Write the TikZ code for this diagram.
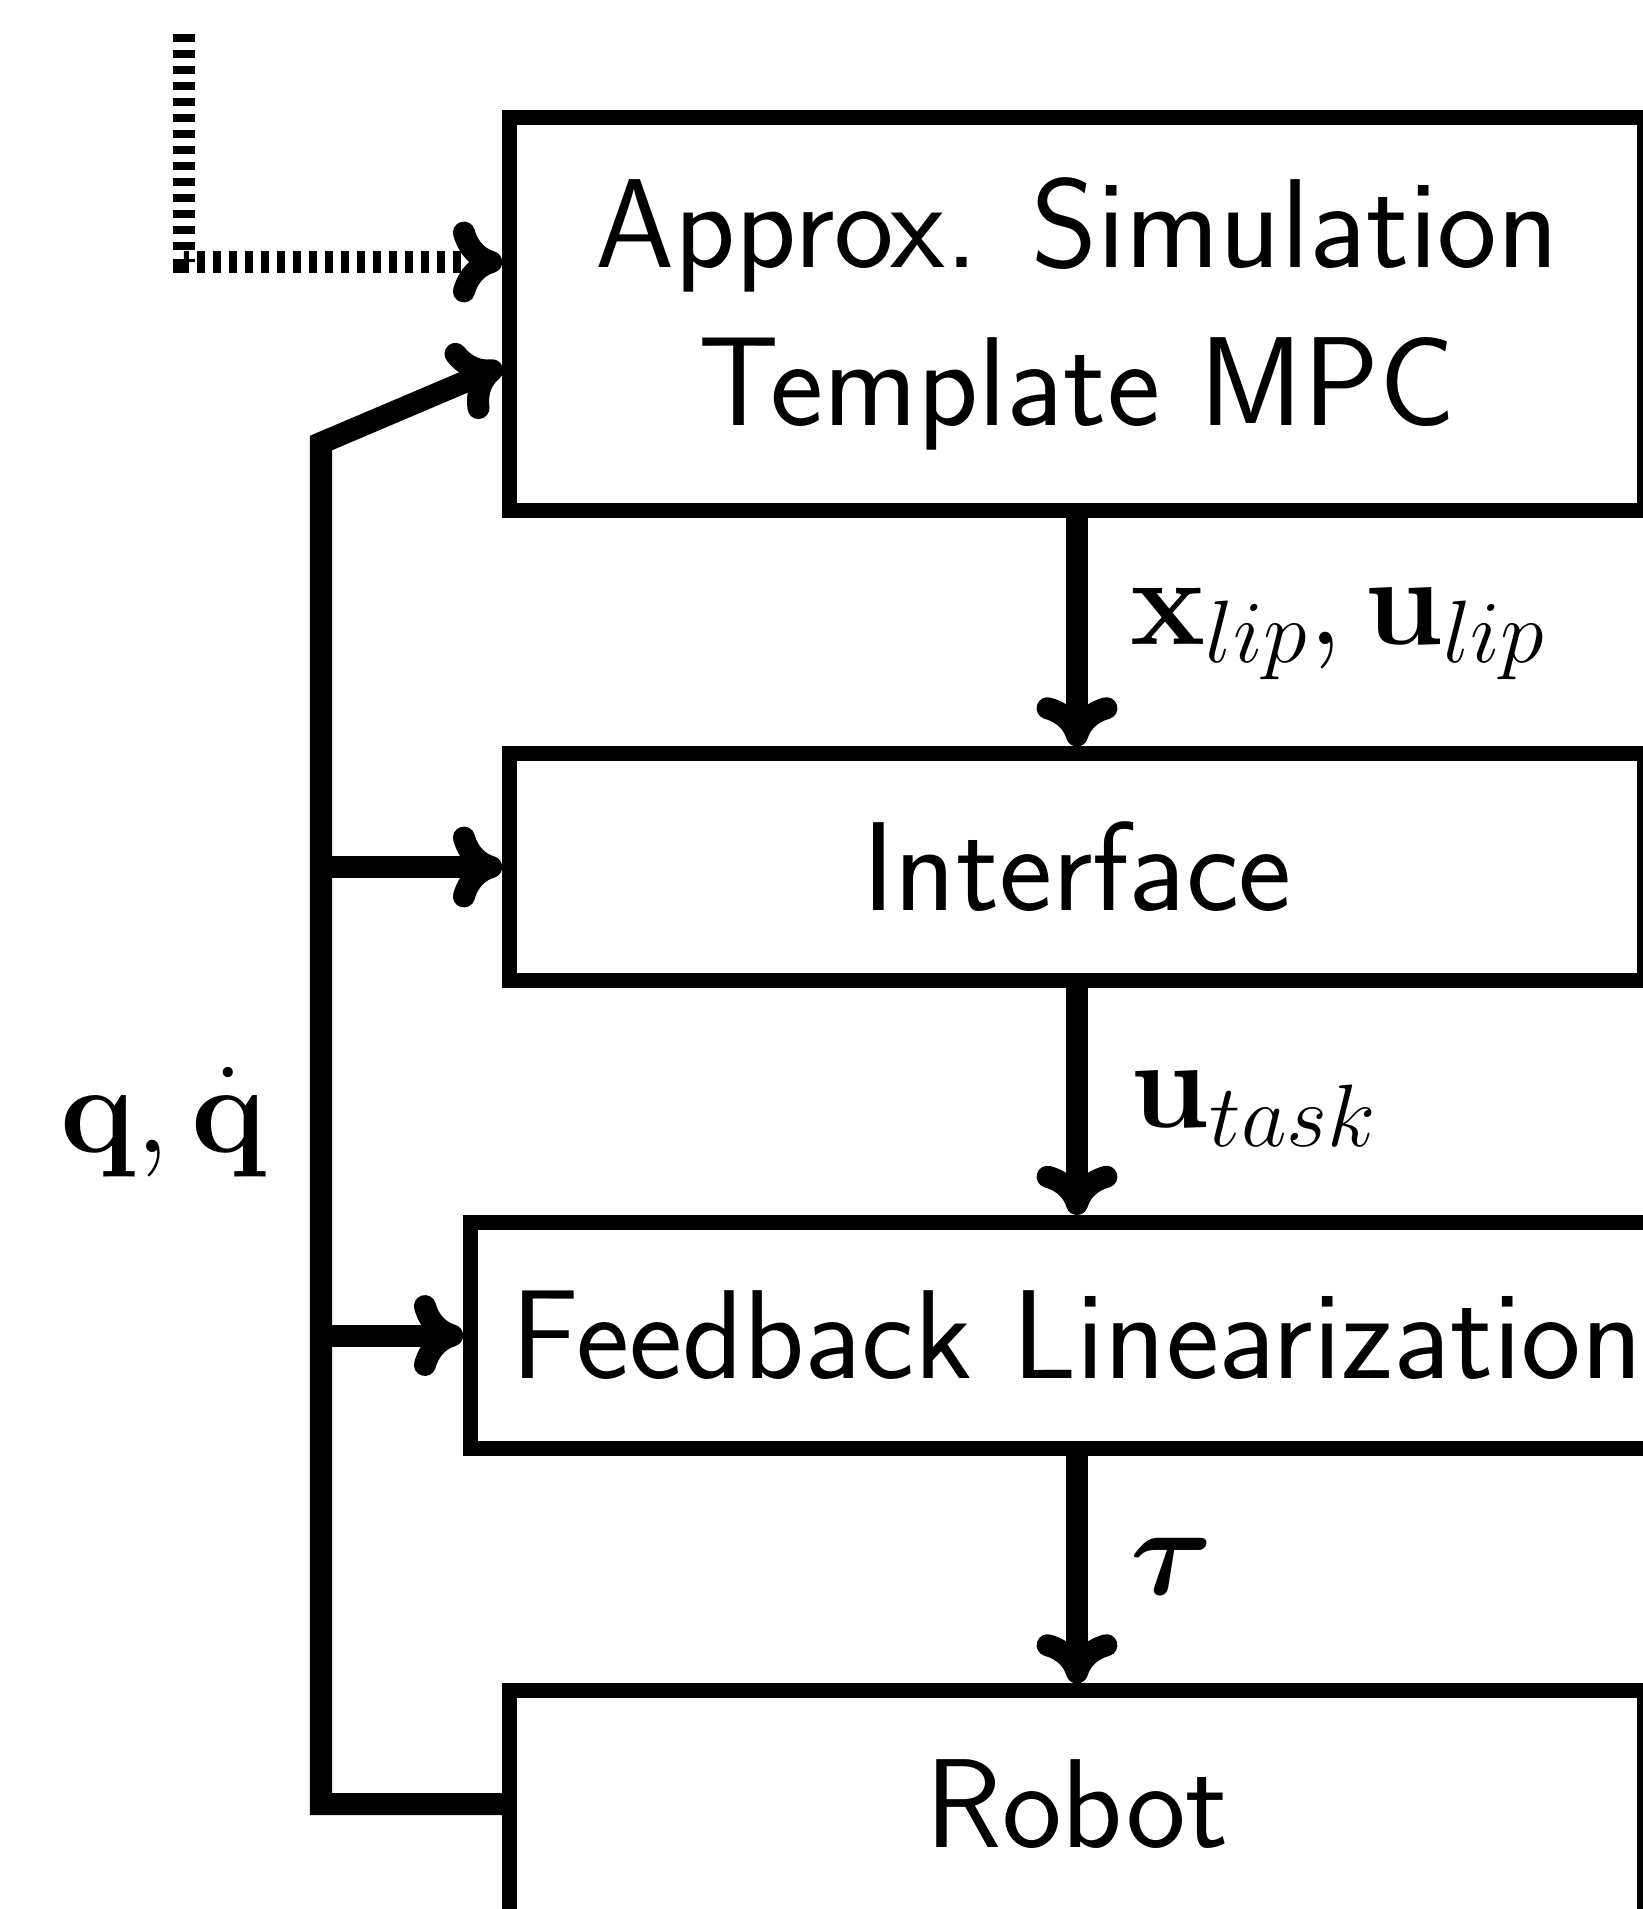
\documentclass[tikz,border=0pt]{standalone}
\usepackage{fix-cm}
\usepackage{amsmath}
\usetikzlibrary{arrows.meta,calc}

\tikzset{
  block/.style={draw, line width=4.27pt, minimum height=2.26cm, inner sep=0pt,
    font=\sffamily\fontsize{36}{45}\selectfont, align=center},
  flow/.style={line width=6.26pt,
    -{Computer Modern Rightarrow[length=14pt,width=23pt]}},
  siglabel/.style={inner sep=0pt, font=\fontsize{36}{43}\selectfont},
}

\begin{document}
\begin{tikzpicture}[x=0.01cm, y=-0.01cm]
  \useasboundingbox (0,0) rectangle (1643,1909);
  \clip (0,0) rectangle (1643,1909);

  % blocks of the control chain
  \node[block, minimum width=11.34cm, minimum height=3.92cm] (mpc) at (1077,314)
    {Approx. Simulation\\Template MPC};
  \node[block, minimum width=11.34cm] (itf) at (1077,867) {Interface};
  \node[block, minimum width=12.12cm] (fbl) at (1077,1335.5) {Feedback Linearization};
  \node[block, minimum width=11.34cm] (rob) at (1077,1804) {Robot};

  % forward signals
  \draw[flow] (mpc.south) -- (itf.north);
  \draw[flow] (itf.south) -- (fbl.north);
  \draw[flow] (fbl.south) -- (rob.north);

  \node[siglabel, anchor=base west] (lxu) at (1130,644) {$\mathbf{x}_{lip}, \mathbf{u}_{lip}$};
  \node[siglabel, anchor=base west] (lut) at (1130,1127) {$\mathbf{u}_{task}$};
  \node[siglabel, anchor=base west] (ltau) at (1130,1594) {$\boldsymbol{\tau}$};

  % state feedback bus
  \coordinate (bustop) at (321,443);
  \draw[flow] (rob.west) -| (bustop) -- ($(mpc.west)+(0,52)$);
  \draw[flow] (bustop |- itf.west) -- (itf.west);
  \draw[flow] (bustop |- fbl.west) -- (fbl.west);
  \node[siglabel, anchor=base east] (lq) at (267,1152) {$\mathbf{q}, \dot{\mathbf{q}}$};

  % external input (dotted)
  \coordinate (dtop) at (184,34);
  \draw[flow, dash pattern=on 2.28pt off 2.28pt] (dtop) |- ($(mpc.west)+(0,-52)$);
\end{tikzpicture}
\end{document}
